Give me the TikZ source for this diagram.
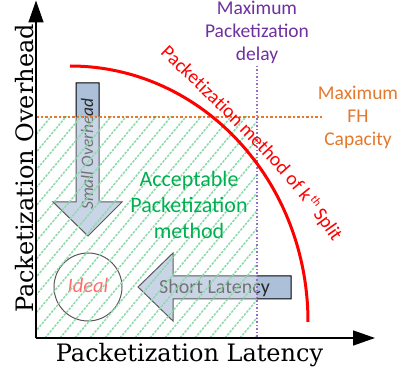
\documentclass[tikz,border=0pt]{standalone}
\usepackage{fontspec}
\setmainfont{Carlito}
\newfontfamily\axfont{DejaVu Serif}
\usetikzlibrary{arrows.meta,decorations.text}
\definecolor{arrfill}{RGB}{173,192,218}
\definecolor{hatchgreen}{RGB}{140,218,170}
\definecolor{ogreen}{RGB}{0,176,80}
\definecolor{oorange}{RGB}{228,120,45}
\definecolor{opurple}{RGB}{112,48,160}
\definecolor{vpurple}{RGB}{150,110,200}
\definecolor{idealred}{RGB}{255,30,30}
\newcommand\redfont{\fontsize{19.5}{23}\selectfont}
\newcommand\redsmall{\fontsize{11.5}{14}\selectfont}
\tikzset{
  arrowshape/.style={fill=arrfill, draw=black, line width=1pt, line join=miter},
  hatchline/.style={hatchgreen, line width=1.5pt, dash pattern=on 2.5pt off 1.2pt},
  axisline/.style={line width=1.5pt, -{Triangle[length=22pt,width=15pt]}},
  lbl/.style={font=\fontsize{19.5}{23}\selectfont, align=center, inner sep=0pt},
}
\begin{document}
\begin{tikzpicture}[x=1pt,y=-1pt]
\useasboundingbox (0,0) rectangle (402,374);
% arrows under the overlay
\draw[arrowshape] (76,83) -- (99,83) -- (99,202) -- (122,202) -- (88,236) -- (53,202) -- (76,202) -- cycle;
\node[rotate=90, anchor=base, inner sep=0pt, text={rgb,255:red,40;green,40;blue,40}, font=\itshape\fontsize{17.5}{20}\selectfont] (smallov) at (93,154) {Small Overhead};
\draw[arrowshape] (291,276) -- (173,276) -- (173,253) -- (138,287) -- (173,321) -- (173,299) -- (291,299) -- cycle;
\node[anchor=base, inner sep=0pt, text={rgb,255:red,40;green,40;blue,40}, font=\fontsize{20}{24}\selectfont] (shortlat) at (214.5,293.5) {Short Latency};
\draw[black, line width=1pt] (88,287) circle[radius=34pt];
\node[anchor=base, inner sep=0pt, text=idealred, font=\itshape\fontsize{20.5}{24}\selectfont] (ideal) at (88,293) {Ideal};
% acceptable region
\fill[white, opacity=0.35] (36,117) rectangle (257,338);
\begin{scope}
\clip (36,117) rectangle (257,338);
\foreach \i in {-14,...,15} \draw[hatchline] (30+15*\i,338) -- ++(200,-238);
\end{scope}
\node[lbl, text=ogreen, anchor=base, font=\fontsize{22}{26}\selectfont] (accept) at (189,239) {Acceptable\\Packetization\\method};
% limits
\draw[oorange, line width=1.2pt, dash pattern=on 2.5pt off 2pt] (36,117) -- (323,117);
\draw[vpurple, line width=1.3pt, dash pattern=on 1.5pt off 2pt] (257,66) -- (257,338);
\node[lbl, text=opurple, anchor=base] (maxdelay) at (257,61) {Maximum\\Packetization\\delay};
\node[lbl, text=oorange, anchor=base] (maxfh) at (358,145.7) {Maximum\\FH\\Capacity};
% axes
\coordinate (origin) at (36,338);
\coordinate (ytip) at (36,0.5);
\coordinate (xtip) at (375,338);
\draw[axisline] (origin) -- (ytip);
\draw[axisline] (origin) -- (xtip);
\node[anchor=base, inner sep=0pt, font=\axfont\fontsize{24}{28}\selectfont] (xlabel) at (189.5,361.5) {Packetization Latency};
\node[rotate=90, anchor=base, inner sep=0pt, font=\axfont\fontsize{24}{28}\selectfont] (ylabel) at (33,168.5) {Packetization Overhead};
% red frontier
\draw[red, line width=3pt] (70,66) arc[start angle=90, end angle=0, x radius=238pt, y radius=256pt];
\coordinate (rt0) at (160,53.5);
\coordinate (rt1) at (218,110);
\coordinate (rt2) at (285,170);
\coordinate (rt3) at (335,245);
\path[decorate, decoration={text along path, text color=red, text={|\redfont|Packetization method of k}, text align=left}] (rt0) .. controls (rt1) and (rt2) .. (rt3);
\path[decorate, decoration={text along path, text color=red, text={|\redsmall|th}, text align={left indent=208.5pt}, raise=7pt}] (rt0) .. controls (rt1) and (rt2) .. (rt3);
\path[decorate, decoration={text along path, text color=red, text={|\redfont|Split}, pre=moveto, pre length=222pt}] (rt0) .. controls (rt1) and (rt2) .. (rt3);
\end{tikzpicture}
\end{document}
